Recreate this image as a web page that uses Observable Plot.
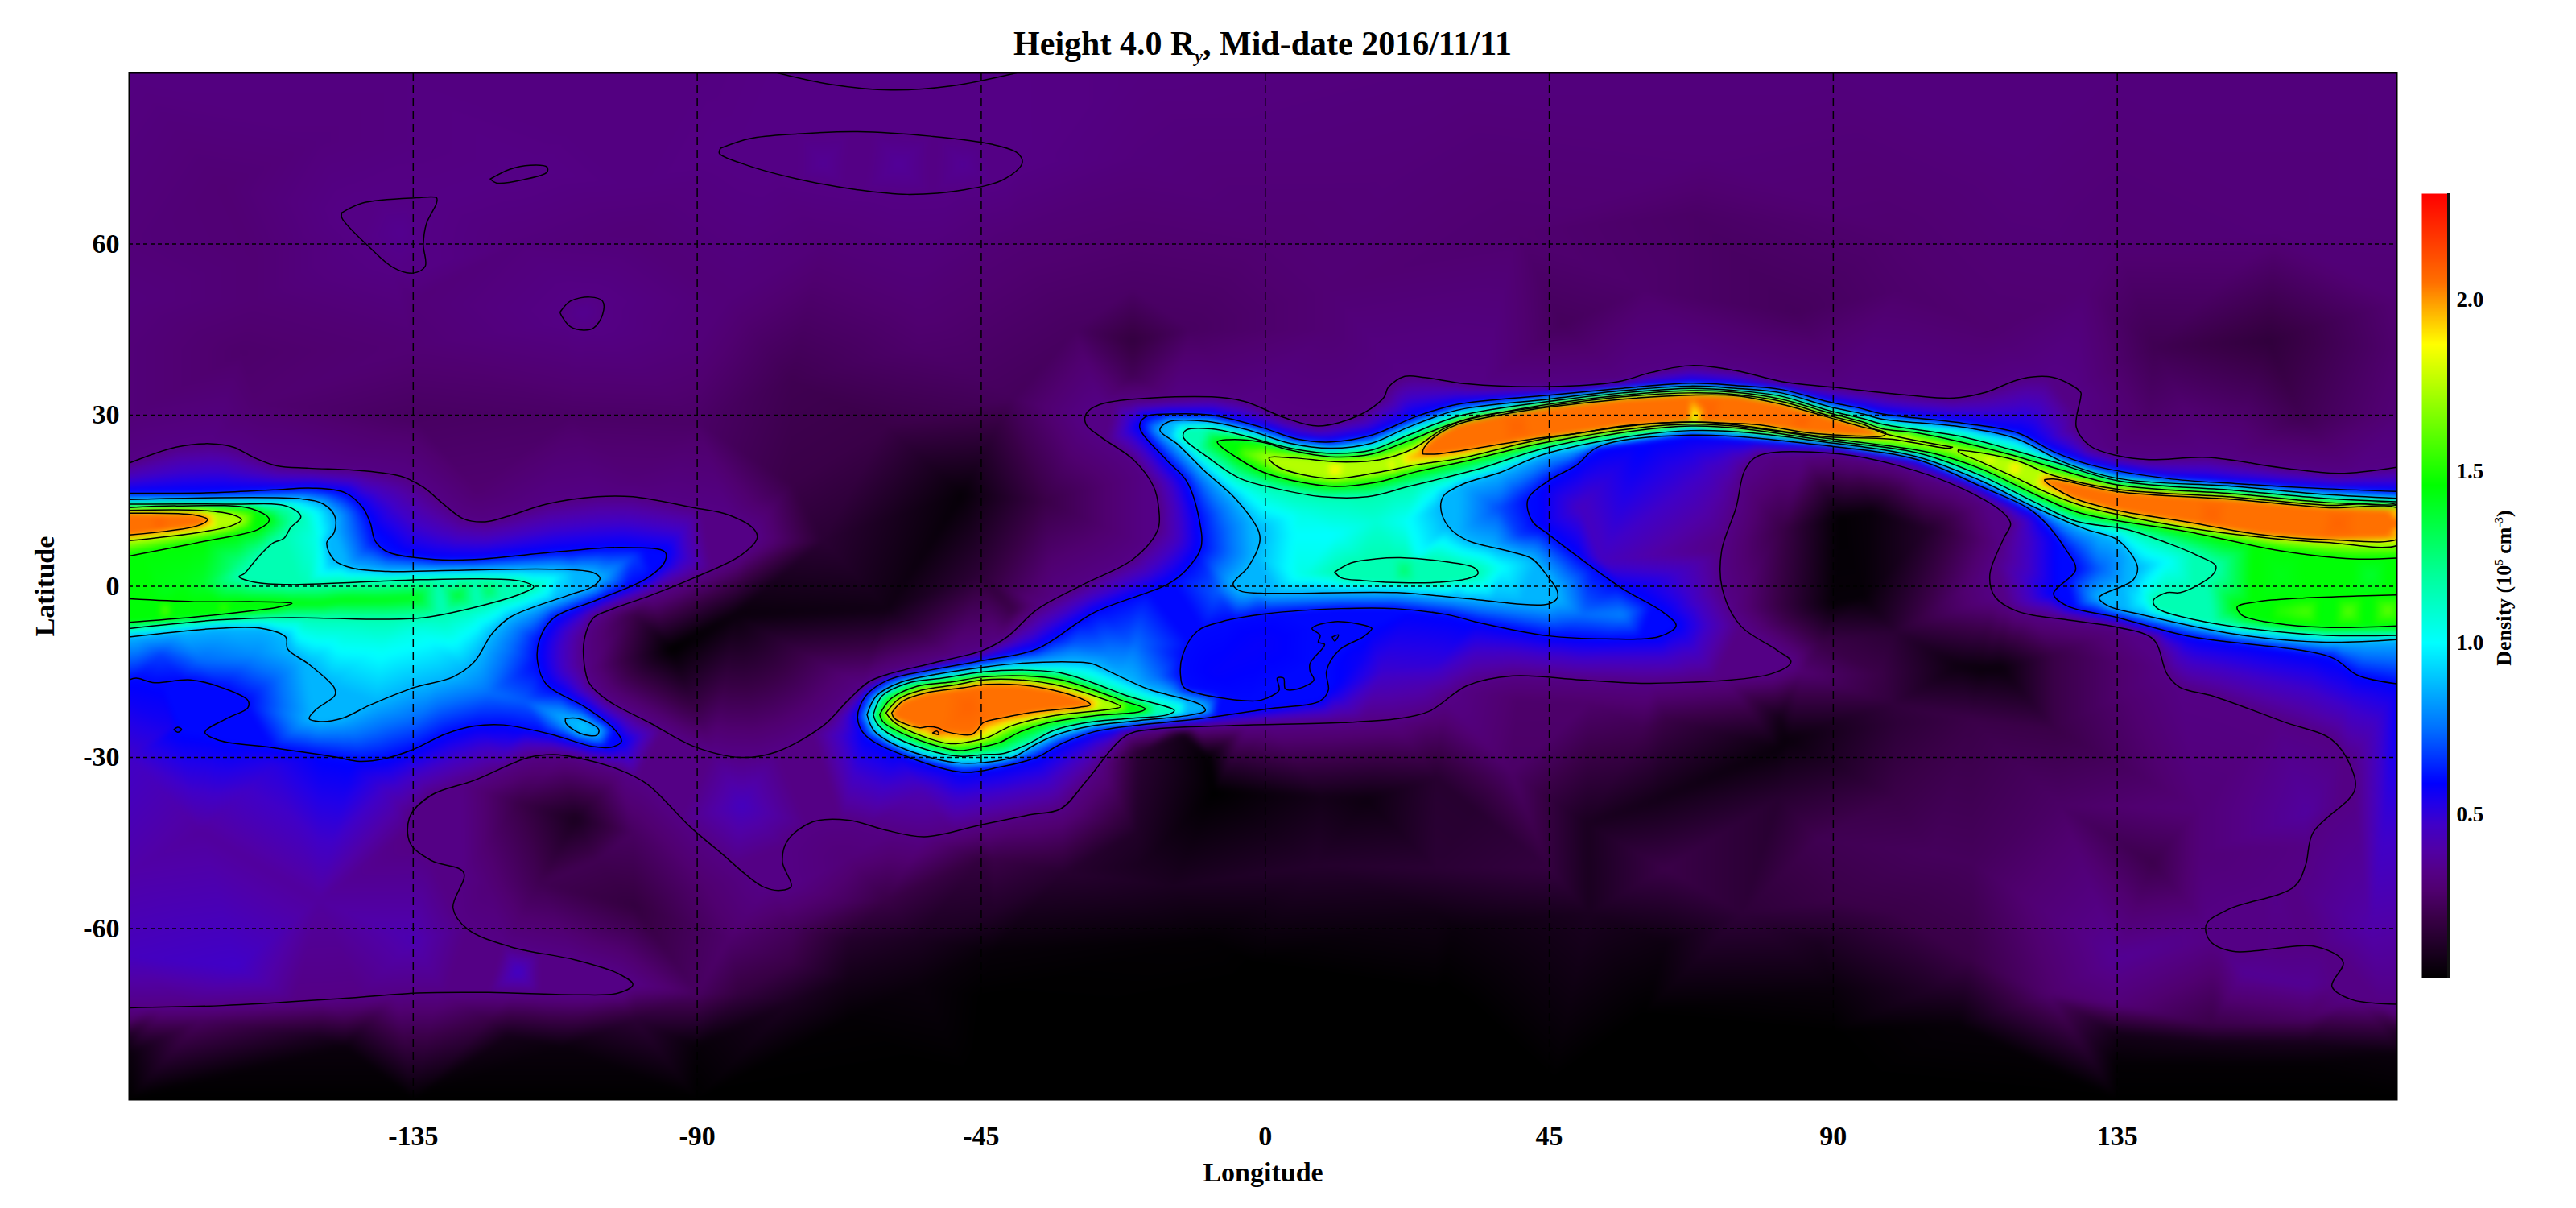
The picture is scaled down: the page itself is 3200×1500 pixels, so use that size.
<!DOCTYPE html>
<html><head><meta charset="utf-8">
<script src="https://cdn.jsdelivr.net/npm/d3@7"></script>
<script src="https://cdn.jsdelivr.net/npm/@observablehq/plot@0.6"></script>
<style>
html,body{margin:0;background:#fff}
#page{position:relative;width:3200px;height:1500px;overflow:hidden;font-family:"Liberation Serif",serif;font-weight:bold;color:#000}
#page>div{position:absolute}
#title{left:0;width:3137px;top:33px;text-align:center;font-size:42px;line-height:42px;white-space:nowrap}
#title sub{font-size:22px;font-style:italic;line-height:0;font-weight:bold}
#cbl{left:3111px;top:730px;font-size:26px;white-space:nowrap;transform:translate(-50%,-50%) rotate(-90deg)}
#cbl sup{font-size:15px;line-height:0}
</style></head><body>
<div id="page">
<div id="main" style="left:0;top:0"></div>
<div id="bar" style="left:3008px;top:240px"></div>
<div id="title">Height 4.0 R<sub>y</sub>, Mid-date 2016/11/11</div>
<div id="cbl">Density (10<sup>5</sup> cm<sup>-3</sup>)</div>
</div>
<script>
const xTicks = [-135,-90,-45,0,45,90,135];
const yTicks = [-60,-30,0,30,60];
const barTicks = [0.5,1.0,1.5,2.0];
const levelValues = {A:0.33,B:0.6,C:0.87,D:1.15,E:1.45,F:1.75,G:2.05};
const colorStops = [0.02,0.10,0.20,0.28,0.33,0.40,0.47,0.53,0.59,0.75,1.0,1.2,1.46,1.87,2.05,2.31];
const colorRange = ["#000000","#1a0020","#3a0048","#500070","#540085","#5000a8","#4000c8","#2200e8","#0000ff","#0070ff","#00ffff","#00ff99","#00ff00","#ffff00","#ff7000","#ff0000"];

const A1=[[-180,21.6],[-172.6,24.4],[-167.2,25],[-163.5,24.4],[-160.1,22.5],[-156.6,21.1],[-151.5,20.7],[-143.5,20.3],[-136.7,19.2],[-133.3,17.3],[-130.4,14.6],[-127,11.8],[-123.6,11.3],[-120.2,12.2],[-113.9,14.4],[-105.9,15.7],[-100.2,15.7],[-90.7,13.8],[-85,12.5],[-81,10],[-80.5,8.5],[-83,5.5],[-90.7,1.4],[-97.4,-1.6],[-104.2,-4.3],[-106.5,-5.6],[-107.9,-9.4],[-107.9,-13.7],[-107.1,-17],[-104.2,-20],[-97.4,-24],[-90.7,-28],[-83.1,-30],[-77.4,-29],[-70,-24.4],[-66.2,-20.1],[-62.9,-16.8],[-59.7,-15.4],[-52.5,-13.4],[-44.7,-11.2],[-40.8,-8.8],[-36.2,-4.1],[-28.7,0.4],[-20.9,4.8],[-17,10],[-16.9,13.8],[-17.7,17.5],[-20.9,22.2],[-26.1,26.2],[-28.4,28.4],[-28.4,30.2],[-26.1,31.9],[-8.5,33.2],[-3.3,32.4],[3.2,29.5],[8.4,28.1],[14.9,30],[18.8,33.1],[19.5,34.9],[22.1,36.8],[25.3,36.6],[31.9,35.5],[44.9,35],[56,35.9],[61.2,37.5],[67.5,38.7],[74.6,37.8],[81.8,35.9],[90,34.9],[101.9,33.5],[109.1,33],[114.1,34],[119.9,36.4],[124.9,36.6],[129.2,34],[129.2,33.1],[128.5,27.9],[130.7,24.6],[135,22.9],[140,22.2],[149.4,22.6],[160.9,20.8],[170.2,19.8],[180,21]];
const A2=[[-180,-73.9],[-165.2,-73.5],[-148.1,-72.4],[-134.4,-71.3],[-123,-71.2],[-109.3,-71.6],[-102.5,-71.3],[-100.2,-69.8],[-102.5,-67.9],[-109.3,-65.5],[-119.6,-63.2],[-126.4,-60.1],[-128.7,-56.4],[-127,-50.2],[-132.1,-48.1],[-135.5,-45],[-135.5,-40.3],[-132.1,-36.6],[-125.3,-34],[-116.7,-30],[-112.7,-29.5],[-109.3,-30],[-102.5,-32.1],[-97.9,-34.7],[-91.1,-42.2],[-86.5,-46.5],[-79.7,-52.6],[-76.8,-53.3],[-75.1,-52.6],[-76.5,-48.3],[-75.7,-44.6],[-71.7,-41.3],[-66,-41],[-60.3,-42.7],[-54,-43.9],[-44.9,-41.8],[-37.5,-40.1],[-32.4,-39],[-28.4,-34.2],[-22.1,-26.2],[-18.1,-25.1],[-5,-24.4],[12,-23.9],[21.1,-23.2],[26,-21.9],[32,-17.4],[39.2,-15.7],[50.1,-16.4],[61,-17],[80.3,-15.3],[83.3,-13.2],[81.1,-11.2],[75.3,-6.9],[72.4,-0.4],[72.3,6.2],[74.6,13.8],[76,20.4],[78.2,22.9],[90,23.3],[99.8,21.3],[110.5,17.1],[117,12.8],[118.1,10.9],[117,8.4],[114.8,2],[115.6,-1.8],[119.2,-4.4],[127.8,-6],[135.1,-7.2],[140.7,-9.3],[142.9,-15.4],[144.9,-17.7],[150.3,-19.3],[161.2,-23.7],[169,-26.9],[172,-31.6],[172.6,-35.8],[166,-43.2],[164.8,-49],[163,-52.7],[152.7,-56.6],[149.1,-59.3],[149.7,-62.2],[153.3,-64],[166.6,-63.2],[170.8,-65.9],[169,-70.1],[172,-72.4],[180,-73.3]];
const A3=[[-77.3,90],[-68.9,88],[-59.3,87],[-49.8,87.7],[-39.4,90]];
const A4=[[-86.3,76.8],[-81.6,78.5],[-74.1,79.3],[-64.6,79.7],[-53,78.9],[-43.4,77.5],[-39.2,75.9],[-38.5,74.2],[-41.3,71.4],[-47.7,69.5],[-56.7,68.7],[-64.6,69.5],[-74.1,71.4],[-82.6,74],[-86.5,75.9],[-86.3,76.8]];
const A5=[[-122.8,71.4],[-119.7,73.1],[-116.5,73.8],[-113.8,73.5],[-113.8,72.6],[-117.5,71.3],[-121.8,70.7],[-122.8,71.4]];
const A6=[[-146.3,65.5],[-143,67.2],[-134.5,68.1],[-131.3,68.1],[-131.3,67.2],[-132.9,63.6],[-133.4,59.9],[-133.1,56.1],[-135,54.9],[-138.2,55.9],[-141.9,59.4],[-146.3,64.6],[-146.3,65.5]];
const A7=[[-111.7,48.1],[-110.1,50],[-107,50.7],[-105,50],[-105,47.6],[-106.4,45.3],[-108,44.9],[-110.1,45.5],[-111.7,47.9],[-111.7,48.1]];

const B1=[[-180,16.3],[-166.9,16.4],[-157.2,16.9],[-150.9,17.2],[-145.8,16.4],[-143,13.8],[-141.8,11.1],[-141,7.9],[-139,6],[-131.6,4.7],[-125.3,4.7],[-111.6,6.1],[-101.9,6.8],[-95.1,6],[-95.1,4.4],[-98,1.4],[-105.9,-2.4],[-112.8,-5.6],[-115,-9.4],[-115.3,-13.2],[-113.9,-17.2],[-107.6,-21.3],[-103.1,-25.1],[-102,-27.2],[-103.6,-28.2],[-106.5,-28.1],[-113.3,-25.9],[-120.7,-24.3],[-125.3,-24.5],[-129.9,-25.9],[-135,-28.6],[-139.5,-30.2],[-143.5,-30.7],[-147.5,-29.9],[-157.2,-28.3],[-165.8,-27],[-168,-25.6],[-164.6,-23.2],[-161.2,-21.3],[-161.2,-20],[-165.2,-17.8],[-170.3,-16.4],[-176,-16.9],[-178.9,-16.1],[-180,-16.4]];
const B2=[[180,16.6],[168.1,17.1],[153.7,18],[142.9,18.9],[130.7,21.3],[124.9,23.6],[119.2,26.9],[110.5,28.6],[97.8,30.2],[94.7,31.1],[89,32.4],[81.8,34.5],[74.6,35.2],[67.4,35.6],[56.6,34.7],[44.9,33.5],[30.5,31.9],[24,29.8],[16.9,26.5],[10.4,25.3],[5.1,25.8],[-0.7,27.9],[-8.5,30],[-15.1,30.2],[-19,29.7],[-19.9,27.9],[-15.7,22.2],[-12.5,18.5],[-10.5,11.9],[-10.2,6.7],[-12.5,2.9],[-15.4,0.4],[-27.1,-4.6],[-36.2,-11],[-44.7,-13],[-53.2,-14.7],[-59.7,-16.4],[-63.3,-19.2],[-64.6,-23],[-63.3,-26.2],[-56.4,-30],[-47.9,-32.6],[-42.1,-31.7],[-36.2,-30],[-32.3,-27.6],[-27.1,-25.5],[-20.6,-24.4],[-10.2,-23.2],[0.3,-21.5],[8.7,-20.1],[10,-18.2],[9.7,-14.9],[11.7,-11.2],[15.6,-8.8],[16.9,-7.4],[16.2,-7],[11,-6.2],[7.4,-7.4],[8.7,-8.6],[8.4,-9.8],[9.4,-10.2],[7.1,-13.5],[7.1,-14.9],[7.7,-16.4],[5.1,-18],[3.2,-18],[2.9,-16.1],[1.9,-16.1],[2.2,-18.2],[0.3,-19.6],[-1.7,-20.1],[-12.8,-17.8],[-13.4,-15.9],[-13.1,-12.1],[-10.8,-7.9],[-6.9,-6.2],[0.3,-4.8],[12,-3.9],[20.5,-3.9],[29.4,-5.1],[33.2,-6.2],[44.9,-8.7],[54,-9.2],[62.5,-8.8],[65.1,-6.9],[63.1,-4.6],[56.6,-0.4],[49.4,5.3],[44.9,9.1],[42.3,11.4],[41.6,15.2],[44.9,18.5],[49.4,21.3],[52.7,24.4],[67.5,26.5],[90,24.5],[103.3,22.2],[113.4,17.5],[122,12.8],[127,6.2],[128.4,2.9],[124.9,-1.3],[127,-3.4],[135.1,-5.5],[146.5,-8.8],[168.8,-12.4],[173.1,-15.6],[180,-17.2]];
const B3=[[-172.9,-25.1],[-172.3,-24.7],[-171.7,-25.1],[-172.3,-25.6],[-172.9,-25.1]];
const B4=[[10.6,-8.9],[11.6,-8.5],[11,-9.6],[10.6,-8.9]];

const C1=[[-180,15.2],[-152.6,15.3],[-149.2,14.4],[-147.4,12.2],[-147.5,9.5],[-148.7,7.6],[-147.5,4.6],[-144.7,3.2],[-139,2.6],[-128.7,2.8],[-112.8,3],[-106.5,2.4],[-105.4,1.4],[-106.5,0],[-110.5,-1.6],[-119.6,-5.4],[-122.5,-8.3],[-125.3,-13.2],[-128.7,-15.9],[-135,-17.8],[-141.8,-20.8],[-146.4,-23.2],[-149.8,-23.7],[-151.5,-23.2],[-150.4,-21.6],[-147.4,-19.1],[-147.5,-17.8],[-151.5,-13.7],[-154.9,-11],[-155.2,-8.9],[-158.9,-7.4],[-166.3,-7.4],[-180,-8.9]];
const C2=[[-110.9,-23.2],[-108.8,-23.2],[-105.6,-25.1],[-105.9,-26.1],[-108.5,-25.8],[-110.8,-24],[-110.9,-23.2]];
const C3=[[180,15.4],[168.1,16.1],[153.7,17.5],[135.1,18.9],[126.4,21.8],[119.2,25.8],[110.5,27.9],[97.8,29.3],[94.7,30.2],[89,31.6],[81.8,33.9],[74.6,34.7],[67.4,35.1],[56.6,34.3],[44.9,32.8],[30.5,30.9],[22.7,27.9],[16.9,25.1],[10.4,24.2],[3.8,25.1],[-2.7,27.4],[-9.2,28.9],[-15.4,28.8],[-16.7,27.4],[-13.8,24.8],[-9.8,20.4],[-4.6,15.2],[-1,9.5],[-0.9,7.6],[-2.7,3.4],[-5.1,0.4],[-4,-0.8],[-0.7,-1.2],[20.8,-1.1],[30.5,-2],[44.9,-3.1],[46.3,-2],[46.2,-0.6],[44.9,1.5],[42.3,4.8],[38.4,6.2],[31.9,8.1],[29,10.5],[27.8,13.8],[28.3,15.9],[31.5,18],[37.1,19.9],[44.9,23.4],[67.5,27.3],[90,25.1],[103.3,22.7],[113.4,18.5],[122,13.8],[130,10],[135.1,8.1],[138.2,3.4],[137.5,1.1],[132.1,-2],[133.5,-3.4],[139.3,-5.1],[153.7,-8.4],[168.1,-9.8],[180,-9.3]];
const C4=[[-63.1,-22.5],[-61.6,-19.2],[-57.7,-16.8],[-51.9,-15.4],[-44.7,-14.2],[-38.8,-13.5],[-29.7,-13.3],[-27.4,-13.6],[-23.8,-15.4],[-18.6,-18],[-10.2,-20.8],[-9.5,-21.8],[-11.5,-22.5],[-20.6,-23.6],[-27.1,-24.4],[-33,-26],[-36.2,-27.6],[-40.1,-30],[-44.7,-30.9],[-49.2,-30.9],[-53.8,-29.8],[-59,-27.6],[-62,-25.3],[-63.1,-22.5]];

const D1=[[-180,14.4],[-164,14.4],[-154.9,14],[-152.8,12.2],[-154.4,10.3],[-155.5,8.4],[-157.2,7.6],[-159.5,5.2],[-161.8,2.2],[-162.6,1.7],[-160.1,0.7],[-154.4,0.3],[-135.6,1.1],[-124.2,1.3],[-117.9,0.9],[-115.9,-0.1],[-117.9,-1.3],[-125.3,-3.7],[-133.3,-5.5],[-140.1,-5.8],[-154.4,-5.5],[-165.8,-5.9],[-180,-7.4]];
const D2=[[180,14.8],[168.1,15.4],[153.7,16.8],[135.1,18.5],[124.9,21.8],[117.7,24.1],[110.5,26.2],[97.8,28.4],[94.7,29.4],[89,30.9],[81.8,33.3],[74.6,34.3],[67.4,34.7],[56.6,33.9],[44.9,32.4],[30.5,29.8],[22.7,26.5],[16.9,23.9],[10.4,23.3],[3.2,24.4],[-2.7,26.2],[-8.5,27.6],[-12.5,27.4],[-13,26.2],[-9.2,22.7],[-4,18.9],[1.9,17.1],[9,15.7],[16.2,15.7],[22.7,17.5],[27.9,18.9],[34.5,20.8],[44.9,24.4],[67.5,28.1],[90,25.4],[103.3,23.4],[113.4,19.4],[122,14.7],[128.5,11.4],[136.4,10],[142.9,7.6],[147.9,5.3],[150.6,3.6],[150.1,2],[145,-1.1],[142.9,-1.1],[140.7,-2.5],[141.4,-3.9],[147.9,-6],[155.8,-7.4],[168.1,-8.6],[180,-8.6]];
const D3=[[11,2.5],[13.6,4.1],[17.5,4.8],[21.4,5],[27.9,4.4],[33.2,3.2],[33.7,2.2],[31.9,1.3],[27.3,0.7],[22.7,0.6],[15.6,1],[12,1.5],[11,2.5]];
const D4=[[-62.1,-22.5],[-60.7,-19.2],[-56.7,-17],[-51.2,-16.1],[-44.7,-15],[-38.2,-14.7],[-32.3,-15.2],[-27.1,-17],[-21.9,-19.2],[-14.4,-21.8],[-15.4,-22.5],[-21.9,-23.2],[-28.4,-23.9],[-33.6,-25.3],[-37.5,-27.6],[-41.4,-29.3],[-44.7,-29.5],[-48.6,-29.8],[-53.8,-28.6],[-59.7,-25.8],[-61.6,-23.9],[-62.1,-22.5]];

const E1=[[-180,13.8],[-172.6,14.1],[-160.6,13.6],[-157.8,11.7],[-159.5,10],[-168,7.9],[-180,5.3]];
const E2=[[180,14.2],[168.1,14.7],[153.7,16.2],[135,17.8],[124.9,20.8],[117.7,23.2],[103.3,26.9],[97.8,27.6],[94.7,28.8],[89,30.5],[81.8,32.8],[74.6,34],[67.4,34.3],[56.6,33.5],[44.9,31.9],[30.5,28.8],[22.7,25.5],[16.9,23.2],[10.4,22.7],[3.8,23.9],[-0.7,25.3],[-5.9,25.7],[-7.6,25.3],[-4,22.2],[-0.1,19.9],[5.8,18.2],[11,17.5],[17.5,18.2],[24,20.1],[31.2,21.8],[44.9,25.3],[67.5,28.4],[90,25.8],[105.5,23.4],[113.4,20.6],[122,16.1],[129.2,12.8],[146.5,9.5],[160.9,6.2],[172.4,4.8],[180,5]];
const E3=[[180,-1.5],[173.1,-1.7],[163.7,-2.1],[157.3,-2.7],[154,-3.6],[154.8,-5.1],[160.1,-6.5],[168.1,-7.2],[180,-6.9]];
const E4=[[-180,-2.2],[-169.7,-2.7],[-160.1,-2.7],[-156,-2.8],[-154.2,-3],[-156.6,-3.7],[-160.6,-4.3],[-169.7,-5.4],[-180,-6.3]];
const E5=[[-61.1,-22.5],[-59.3,-19.7],[-55.1,-17.5],[-49.9,-16.8],[-44.7,-15.9],[-38.2,-15.7],[-32.3,-16.4],[-27.1,-18.2],[-22.5,-20.1],[-19,-21.5],[-19.9,-22],[-27.1,-22.7],[-34.3,-23.9],[-38.8,-25.5],[-42.1,-27.4],[-44.7,-28.1],[-48.6,-28.8],[-53.2,-27.6],[-58.4,-25.3],[-60.6,-23.7],[-61.1,-22.5]];

const F1=[[-180,13.3],[-168.6,13.3],[-163.5,12.5],[-162.2,11.7],[-163.8,10.6],[-169.2,9.4],[-180,8]];
const F2=[[108.9,24.4],[97.8,26.9],[94.7,28.4],[89,30],[81.8,32.4],[74.6,33.6],[67.4,33.9],[56.6,33.2],[44.9,31.6],[31.9,29.3],[27.9,27.4],[23.4,24.1],[18.2,22.2],[11.7,21.8],[4.5,22.5],[0.6,22.5],[1.9,21],[5.8,19.6],[11,18.9],[17.5,19.9],[24,21.3],[31.2,22.5],[44.9,26],[67.5,28.8],[89,26.2],[99,25.8],[108.4,24.2],[108.9,24.4]];
const F3=[[109.8,23.9],[113.4,23.4],[119.2,22],[124.9,19.4],[135,17],[153.7,15.6],[168.1,14.2],[180,13.8],[180,7.6],[168.1,7.7],[159.4,8.4],[146.5,10.2],[135,12.6],[129.2,14.2],[123.5,16.6],[119.2,18.9],[113.4,21.8],[109.8,23.6],[109.8,23.9]];
const F4=[[-60.1,-22.2],[-58,-19.7],[-54.5,-18.2],[-49.2,-17.3],[-44.7,-16.4],[-38.8,-16.4],[-32.3,-17.5],[-27.1,-19.2],[-22.9,-21.1],[-24.2,-21.5],[-33.6,-22.7],[-40.1,-24.4],[-44,-26.5],[-46.6,-27.2],[-49.9,-27.6],[-54.5,-26.2],[-58.7,-23.9],[-60.1,-22.2]];

const G1=[[-180,12.8],[-169.7,12.5],[-167.6,11.7],[-169.2,10.6],[-180,9]];
const G2=[[25,23.2],[25,23.9],[26.6,26],[30.5,28.4],[37,30],[44.9,31.4],[56.6,32.8],[67.4,33.5],[74.6,33.4],[81.8,31.9],[89,29.7],[94.7,27.9],[98.3,26.9],[98,26.4],[92.6,26.4],[86.1,26.9],[78.2,28.3],[73.2,28.6],[67.4,28.8],[56.6,28.1],[50.1,26.9],[42.3,25.8],[34.5,24.4],[27.3,23.2],[25,23.2]];
const G3=[[123.5,18.7],[124.9,18.8],[135,16.6],[153.7,15.2],[168.1,13.8],[180,13.3],[180,8.7],[168.1,8.2],[157.3,9.1],[146.5,11.2],[135,13.3],[127.8,15.6],[123.5,18.5],[123.5,18.7]];
const G4=[[-59.2,-22.2],[-57.4,-20.1],[-53.8,-18.7],[-47.9,-17.8],[-44,-17.2],[-38.8,-17.3],[-33.6,-18.2],[-28.4,-20.1],[-27.7,-20.8],[-29.4,-21.2],[-36.2,-22],[-41.4,-23],[-44.7,-23.9],[-45.7,-25.3],[-46.6,-26],[-50.5,-25.5],[-51.9,-24.8],[-53.5,-24.6],[-54.8,-24.8],[-58.7,-23.2],[-59.2,-22.2]];
const G5=[[-52.7,-25.7],[-52,-25.4],[-51.7,-26],[-52.7,-25.7]];

const contourList = [["A",A1],["A",A2],["A",A3],["A",A4],["A",A5],["A",A6],["A",A7],["B",B1],["B",B2],["B",B3],["B",B4],["C",C1],["C",C2],["C",C3],["C",C4],["D",D1],["D",D2],["D",D3],["D",D4],["E",E1],["E",E2],["E",E3],["E",E4],["E",E5],["F",F1],["F",F2],["F",F3],["F",F4],["G",G1],["G",G2],["G",G3],["G",G4],["G",G5]];

// readings of the density away from the contours: [lon, lat, density]
const samples = [
[-180,90,.32],[-135,90,.32],[-90,90,.32],[-60,90,.34],[-20,90,.32],[30,90,.31],[90,90,.31],[135,90,.31],[180,90,.31],
[-180,75,.31],[-165,70,.29],[-150,78,.31],[-135,78,.32],[-110,80,.32],[-100,70,.32],[-58,74,.37],[-70,74,.36],[-48,74,.36],[-20,75,.31],[20,72,.3],[70,75,.3],[120,75,.31],[180,75,.31],
[-180,60,.3],[-160,58,.29],[-137,62,.35],[-118,60,.31],[-100,62,.3],[-70,60,.3],[-40,60,.29],[0,62,.29],[40,62,.28],[68,65,.26],[100,62,.28],[135,60,.29],[160,62,.3],[180,60,.3],
[-180,50,.31],[-160,50,.29],[-135,50,.3],[-85,50,.3],[-55,50,.29],[-21,52,.26],[10,52,.29],[60,52,.27],[100,52,.27],[130,52,.29],[180,50,.29],
[-180,42,.3],[-162,41,.27],[-135,42,.29],[-108,48,.35],[-90,42,.3],[-75,36,.22],[-55,42,.27],[-21,43,.18],[-30,45,.25],[-12,45,.25],[-21,37,.23],[10,45,.29],[47,46,.24],[84,48,.24],[115,45,.28],[141,42,.22],[159,43,.17],[180,42,.28],
[-180,30,.3],[-160,32,.28],[-135,30,.25],[-110,30,.26],[-90,29,.26],[-60,28,.2],[-40,33,.24],[164,30,.22],[140,30,.27],[180,30,.3],
[-125,17,.28],[-100,19,.3],[-75,18,.2],[-48,16,.04],[-35,15,.2],[-60,-4,.07],[-70,8,.15],[-45,2,.16],[-94,-11,.02],[-84,-5,.05],[-100,-5,.2],[-40,-4,.2],
[91,12,.03],[96,13,.05],[90,-3,.04],[94.7,-2,.04],[82,10,.2],[105,10,.13],[100,-8,.15],[88,-10,.2],[110,-14,.06],[113.4,-14.5,.05],[125,-12,.2],[85,-15,.28],
[-13,-26,.08],[-8,-36,.02],[-9,-30,.03],[-20,-29,.15],[-18,-47,.09],[8,-49,.13],[9,-37,.08],[16,-37.4,.06],[39,-32.7,.26],[33,-39,.14],[51,-41.6,.1],[25,-25,.27],[40,-20,.27],[62,-37.4,.08],[82.7,-26.9,.05],[100,-24,.16],[116.5,-14.3,.05],[125,-25,.2],[112,-48.5,.24],[126,-38.5,.26],[148,-39,.3],[140.6,-48.5,.21],[60,-25,.22],[-2,-66,.02],[-43,-64,.04],[-66,-69,.08],[-20,-48.8,.1],[-60,-55,.2],[-45,-48,.18],[90,-55,.2],[30,-60,.05],
[27,-49.5,.15],[45,-49.5,.18],[63.4,-49.5,.2],[87.5,-44.3,.22],[105.6,-46.9,.24],[27,-33.7,.14],[81.5,-36.9,.14],[99.6,-36.9,.2],[111.7,-23.2,.2],[99.6,-20.6,.17],[97.2,-15.3,.2],[51.3,-20.6,.27],[63.4,-23.2,.2],[81.5,-23.2,.08],[81.5,-28.5,.05],[27,-57.4,.07],[51.3,-57.4,.1],[75.5,-57.4,.16],[99.6,-57.4,.2],[63.4,-62.7,.06],[87.5,-62.7,.1],[111.7,-65.3,.2],[105.6,-70.6,.12],[160,-54.8,.34],[148,-47,.3],
[-66,-62,.13],[-66,-55,.25],[-43,-57.3,.12],[-31.8,-50.2,.14],[-20.4,-43.2,.12],[-14.7,-52.6,.1],[-9,-62,.03],[-83,-71.4,.18],[-66,-76.1,.03],[-66,-47.9,.3],[-43,-47.9,.2],[-88.8,-52.6,.28],[-106,-47.9,.22],[-123,-52.6,.3],[-100.2,-43.2,.25],[-75,-60,.24],[-85,-62,.27],[-55,-62,.1],[-75,-66,.2],[-55,-70,.05],[-75,-73,.1],
[-109.3,-40.8,.1],[-100,-56,.18],[-115,-52,.22],[-118,-38,.2],[-163,-66.7,.47],[-118.4,-67.6,.47],[-168.6,-43,.38],[-150,-55,.38],[-135,-62,.42],[-83,-38.5,.45],[-54.6,-36,.42],[-157,-31.4,.52],[-120,-28,.5],[-180,-30,.47],[-180,-50,.40],[-180,-65,.45],[165,-40,.38],[175,-60,.4],[165,-70,.36],[155,-68,.36],[172,-20,.5],
[-180,-76,.27],[-168.6,-76,.25],[-145.8,-76,.22],[-123,-76,.2],[-100,-76,.15],[-180,-79,.1],[-150,-79,.1],[-120,-79,.08],[-180,-82,.05],[-145.8,-80.8,.05],[-111.6,-80.8,.05],[-180,-90,.02],[-135,-90,.02],[-90,-71.4,.25],[-90,-80.8,.04],[-90,-90,.02],[-43,-85.5,.01],[-45,-72,.02],[-45,-90,.01],[0,-76,.01],[0,-90,.01],[27,-76,.0],[45,-90,.01],[60,-75,.02],[90,-70.6,.05],[90,-78,.02],[90,-90,.01],[110,-77,.04],[135,-65.3,.36],[135,-73.2,.3],[135,-78.5,.08],[135,-83.8,.03],[135,-90,.02],[150,-77,.2],[150,-80,.08],[150,-84,.03],[165,-76,.25],[165,-80,.09],[165,-84,.03],[180,-76,.27],[180,-79,.1],[180,-82,.05],[180,-90,.02],[124,-71.6,.27],
[-173,-25,.55],[-180,-20,.57],[-175,-12,.68],[-168.6,-13.2,.74],[-160,-12,.8],
[-140,-10.5,1.03],[-145.8,-7.8,1.08],[-134.4,-7.8,1.05],[-148.7,3,.95],[-150.4,8.4,1.05],[-128.7,0.3,1.1],[-111.6,1.9,.95],
[-150,-3,1.44],[-145.8,-2.4,1.44],[-140,-2.4,1.43],[-134.4,-2,1.42],[-128,-1.5,1.38],[-123,-0.8,1.3],[-171.5,1.4,1.42],[-168.6,0.3,1.39],[-174.3,-1.3,1.42],[-162.9,4.1,1.25],[-156,11.1,1.3],[-174.3,-4.3,1.6],[-165,-3.6,1.55],[-158,-3.3,1.48],[178,-4.2,1.62],[171.6,-4.4,1.6],[165,-4.4,1.58],[160.9,-4.4,1.52],[160.9,2,1.42],[175.2,2,1.38],[142.9,4.4,1],[139.3,-2.7,1],[132.1,3,.72],
[-123,-18.6,.75],[-134.4,-24,.72],[-117.3,-20.2,.72],[-108,-24.5,.92],[-109.9,4.6,.7],[-100.2,5.2,.68],
[11,9,1],[4.5,9,1],[17.5,11.4,1.08],[22.1,11.4,1.02],[5.8,12.8,1.05],[9.7,13.8,1.1],[5.8,2,1.05],[24,5.3,1.02],[30.5,-0.4,.95],[37.7,3.4,1],[22,2.8,1.28],
[-21.6,-9.8,.72],[-24.8,-12.1,.78],[-20.6,-10.2,.75],[-17.3,-15.9,.75],[-30.3,-10.2,.72],[-7.6,-0.8,.72],[-1,-2.2,.75],[24,-2.7,.75],[50.1,-5,.75],[56.6,-5,.78],[37,13.8,.7],[40.3,9,.67],
[-7.6,-15,.585],[-1,-10.2,.58],[15.3,-12.6,.57],[18.5,-15,.48],[25,-17.3,.42],[27.2,-13.7,.5],[63.4,-12.7,.47],[50.1,13.8,.45],[53.4,4.4,.45],[50.1,-12,.5],
[11,20.5,1.92],[20,20.5,1.9],[22.7,22.5,1.98],[-3.3,23.2,1.6],[119,21,1.95],[115,22.5,1.88],[101.9,26.2,1.92],
[-47,-21,2.08],[40,28,2.08],[70,31,2.08],[85,29,2.08],[150,12.5,2.08],[170,11,2.08],[-175,11,2.08]
];

// The fill passes through the traced lines: each line is walked at a short step so the raster follows it.
const fillStep = 1.2;
const points = [];
for (const [lvl, arr] of contourList) {
  const v = levelValues[lvl];
  for (let i = 0; i < arr.length - 1; i++) {
    const [x0,y0] = arr[i], [x1,y1] = arr[i+1];
    const n = Math.max(1, Math.ceil(Math.hypot(x1-x0,y1-y0)/fillStep));
    for (let k = 0; k < n; k++) points.push({lon:x0+(x1-x0)*k/n, lat:y0+(y1-y0)*k/n, v});
  }
  const last = arr[arr.length-1];
  points.push({lon:last[0], lat:last[1], v});
}
for (const [lon,lat,v] of samples) points.push({lon,lat,v});
const lines = contourList.flatMap(([lvl,arr],i)=>arr.map(([lon,lat])=>({id:i,lon,lat})));

const colorScale = {type:"linear",domain:colorStops,range:colorRange,clamp:true};

document.getElementById("main").append(Plot.plot({
  width:3200,height:1500,marginLeft:160,marginRight:223,marginTop:90,marginBottom:135,
  style:{fontFamily:"Liberation Serif",fontWeight:"bold",fontSize:"34px",background:"transparent"},
  x:{domain:[-180,179.3]},y:{domain:[-90,90]},color:colorScale,
  marks:[
    Plot.raster(points,{x:"lon",y:"lat",fill:"v",interpolate:"barycentric",pixelSize:1,blur:3}),
    Plot.line(lines,{x:"lon",y:"lat",z:"id",stroke:"#000",strokeWidth:1.5,curve:"catmull-rom",clip:true}),
    Plot.ruleX(xTicks,{stroke:"#000",strokeWidth:1.5,strokeDasharray:"10 6"}),
    Plot.ruleY(yTicks,{stroke:"#000",strokeWidth:1.5,strokeDasharray:"5 4"}),
    Plot.frame({stroke:"#000",strokeWidth:2}),
    Plot.axisX({ticks:xTicks,tickSize:0,tickPadding:32,label:"Longitude",labelAnchor:"center",labelArrow:"none",labelOffset:101,tickFormat:d=>String(d)}),
    Plot.axisY({ticks:yTicks,tickSize:0,tickPadding:12,label:"Latitude",labelAnchor:"center",labelArrow:"none",labelOffset:118,tickFormat:d=>String(d)})
  ]
}));

document.getElementById("bar").append(Plot.plot({
  width:120,height:975,marginLeft:0,marginRight:87,marginTop:0,marginBottom:0,
  style:{fontFamily:"Liberation Serif",fontWeight:"bold",fontSize:"27px",background:"transparent"},
  x:{domain:[0,1],axis:null},y:{domain:[0.02,2.31]},color:colorScale,
  marks:[
    Plot.raster({x1:0,x2:1,y1:0.02,y2:2.31,width:2,height:975,fill:(x,y)=>y}),
    Plot.ruleX([1],{stroke:"#111",strokeWidth:3}),
    Plot.axisY({anchor:"right",ticks:barTicks,tickSize:0,tickPadding:10,tickFormat:".1f",label:null})
  ]
}));
</script>
</body></html>
